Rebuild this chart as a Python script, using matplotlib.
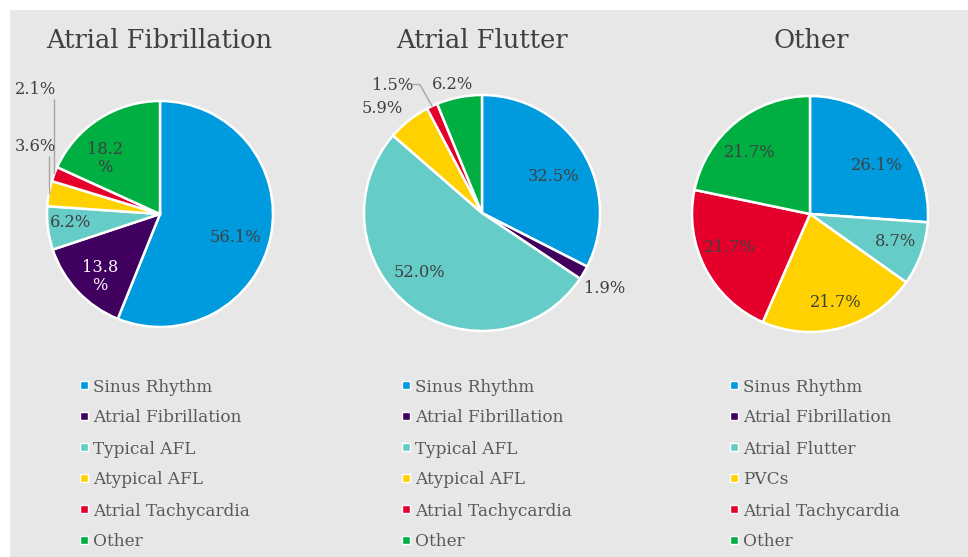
import numpy as np
import matplotlib
matplotlib.use("Agg")
import matplotlib.pyplot as plt
from matplotlib.patches import Rectangle

# ---------------- data ----------------
titles = ["Atrial Fibrillation", "Atrial Flutter", "Other"]

categories_af = ["Sinus Rhythm", "Atrial Fibrillation", "Typical AFL",
                 "Atypical AFL", "Atrial Tachycardia", "Other"]
categories_afl = ["Sinus Rhythm", "Atrial Fibrillation", "Typical AFL",
                  "Atypical AFL", "Atrial Tachycardia", "Other"]
categories_other = ["Sinus Rhythm", "Atrial Fibrillation", "Atrial Flutter",
                    "PVCs", "Atrial Tachycardia", "Other"]

values_af = [56.1, 13.8, 6.2, 3.6, 2.1, 18.2]
values_afl = [32.5, 1.9, 52.0, 5.9, 1.5, 6.2]
values_other = [26.1, 0.0, 8.7, 21.7, 21.7, 21.7]

label_text_af = ["56.1%", "13.8\n%", "6.2%", "3.6%", "2.1%", "18.2\n%"]
label_text_afl = ["32.5%", "1.9%", "52.0%", "5.9%", "1.5%", "6.2%"]
label_text_other = ["26.1%", "", "8.7%", "21.7%", "21.7%", "21.7%"]

colors = ["#009BDE", "#40005F", "#66CCC8", "#FFD100", "#E4002B", "#00AE42"]

# ---------------- layout / style ----------------
W, H = 968, 557
FAMILY = "DejaVu Serif"
BG = "#e7e7e7"
TXT = "#404040"
LEG_TXT = "#595959"

# pie centres (px from top-left) and radii (px)
pie_geom = [((160, 214), 113), ((482, 213), 118), ((810, 214), 118)]
title_x = [159, 481.5, 811.5]
title_baseline = 48

# label placement: (radial distance in radii, angle offset from wedge middle, deg)
label_pos_af = [(0.70, -6), (0.77, 3), (0.80, -1.5), (1.25, -18), (1.56, -24.3), (0.69, 12)]
label_pos_afl = [(0.68, -4.5), (1.22, -1.3), (0.73, -9), (1.22, 5.3), (1.32, 10), (1.12, 1.8)]
label_pos_other = [(0.70, -7), (0, 0), (0.76, 2), (0.78, 0.6), (0.74, -4.5), (0.73, 5)]
label_colors_af = [TXT, "white", TXT, TXT, TXT, TXT]
# leader lines: None, 'vertical' or 'elbow'
leaders_af = [None, None, None, "vertical", "vertical", None]
leaders_afl = [None, None, None, None, "elbow", None]
leaders_other = [None] * 6

legend_marker_x = [84, 406, 734]
legend_text_x = [93, 415, 743]
legend_y0, legend_dy = 385, 31

fig = plt.figure(figsize=(W / 100, H / 100), dpi=100)
fig.patch.set_facecolor("white")
fig.patches.append(Rectangle((10 / W, 0), 1 - 10 / W, 1 - 10 / H,
                             transform=fig.transFigure, facecolor=BG,
                             edgecolor="none", zorder=-10))

renderer = fig.canvas.get_renderer()


def fit_size(text, target_px):
    t = fig.text(0, 0, text, fontsize=10, family=FAMILY)
    w = t.get_window_extent(renderer).width
    t.remove()
    return 10 * target_px / w


title_size = fit_size("Atrial Fibrillation", 228)
legend_size = fit_size("Sinus Rhythm", 120)
label_size = fit_size("52.0%", 51)

datasets = [
    (values_af, categories_af, label_text_af, label_pos_af, leaders_af, label_colors_af),
    (values_afl, categories_afl, label_text_afl, label_pos_afl, leaders_afl, [TXT] * 6),
    (values_other, categories_other, label_text_other, label_pos_other, leaders_other, [TXT] * 6),
]

S = 400  # axes size in px
for k, (vals, cats, ltxt, lpos, leads, lcols) in enumerate(datasets):
    (cx, cy), r = pie_geom[k]
    ax = fig.add_axes([(cx - S / 2) / W, 1 - (cy + S / 2) / H, S / W, S / H])
    wedges, _ = ax.pie(vals, colors=colors, startangle=90, counterclock=False,
                       radius=1.0,
                       wedgeprops=dict(edgecolor="white", linewidth=1.8))
    L = S / 2 / r
    ax.set_xlim(-L, L)
    ax.set_ylim(-L, L)
    ax.set_aspect("equal")
    ax.axis("off")

    for i, w in enumerate(wedges):
        if not ltxt[i]:
            continue
        mid = (w.theta1 + w.theta2) / 2.0
        d, off = lpos[i]
        a = np.deg2rad(mid + off)
        x, y = d * np.cos(a), d * np.sin(a)
        ax.text(x, y, ltxt[i], ha="center", va="center", fontsize=label_size,
                family=FAMILY, color=lcols[i], linespacing=1.05)
        if leads[i] is not None:
            am = np.deg2rad(mid)
            ex, ey = np.cos(am), np.sin(am)
            if leads[i] == "vertical":
                ax.plot([ex, ex], [y - 0.085, ey], color="#a6a6a6", lw=1.0,
                        solid_capstyle="butt")
            else:
                sx = x + 0.165
                ax.plot([sx, sx + 0.065, ex], [y + 0.008, y + 0.008, ey],
                        color="#a6a6a6", lw=1.0)

    fig.text(title_x[k] / W, 1 - title_baseline / H, titles[k], ha="center",
             va="baseline", fontsize=title_size, family=FAMILY, color=TXT)

    # legend
    for i, cat in enumerate(cats):
        yy = legend_y0 + i * legend_dy
        ms = 8.5
        fig.patches.append(Rectangle(((legend_marker_x[k] - ms / 2) / W,
                                      1 - (yy + ms / 2) / H),
                                     ms / W, ms / H, transform=fig.transFigure,
                                     facecolor=wedges[i].get_facecolor(),
                                     edgecolor="white", linewidth=1.0))
        fig.text(legend_text_x[k] / W, 1 - yy / H, cat, ha="left",
                 va="center_baseline", fontsize=legend_size, family=FAMILY,
                 color=LEG_TXT)

fig.savefig("out.png", dpi=100)
